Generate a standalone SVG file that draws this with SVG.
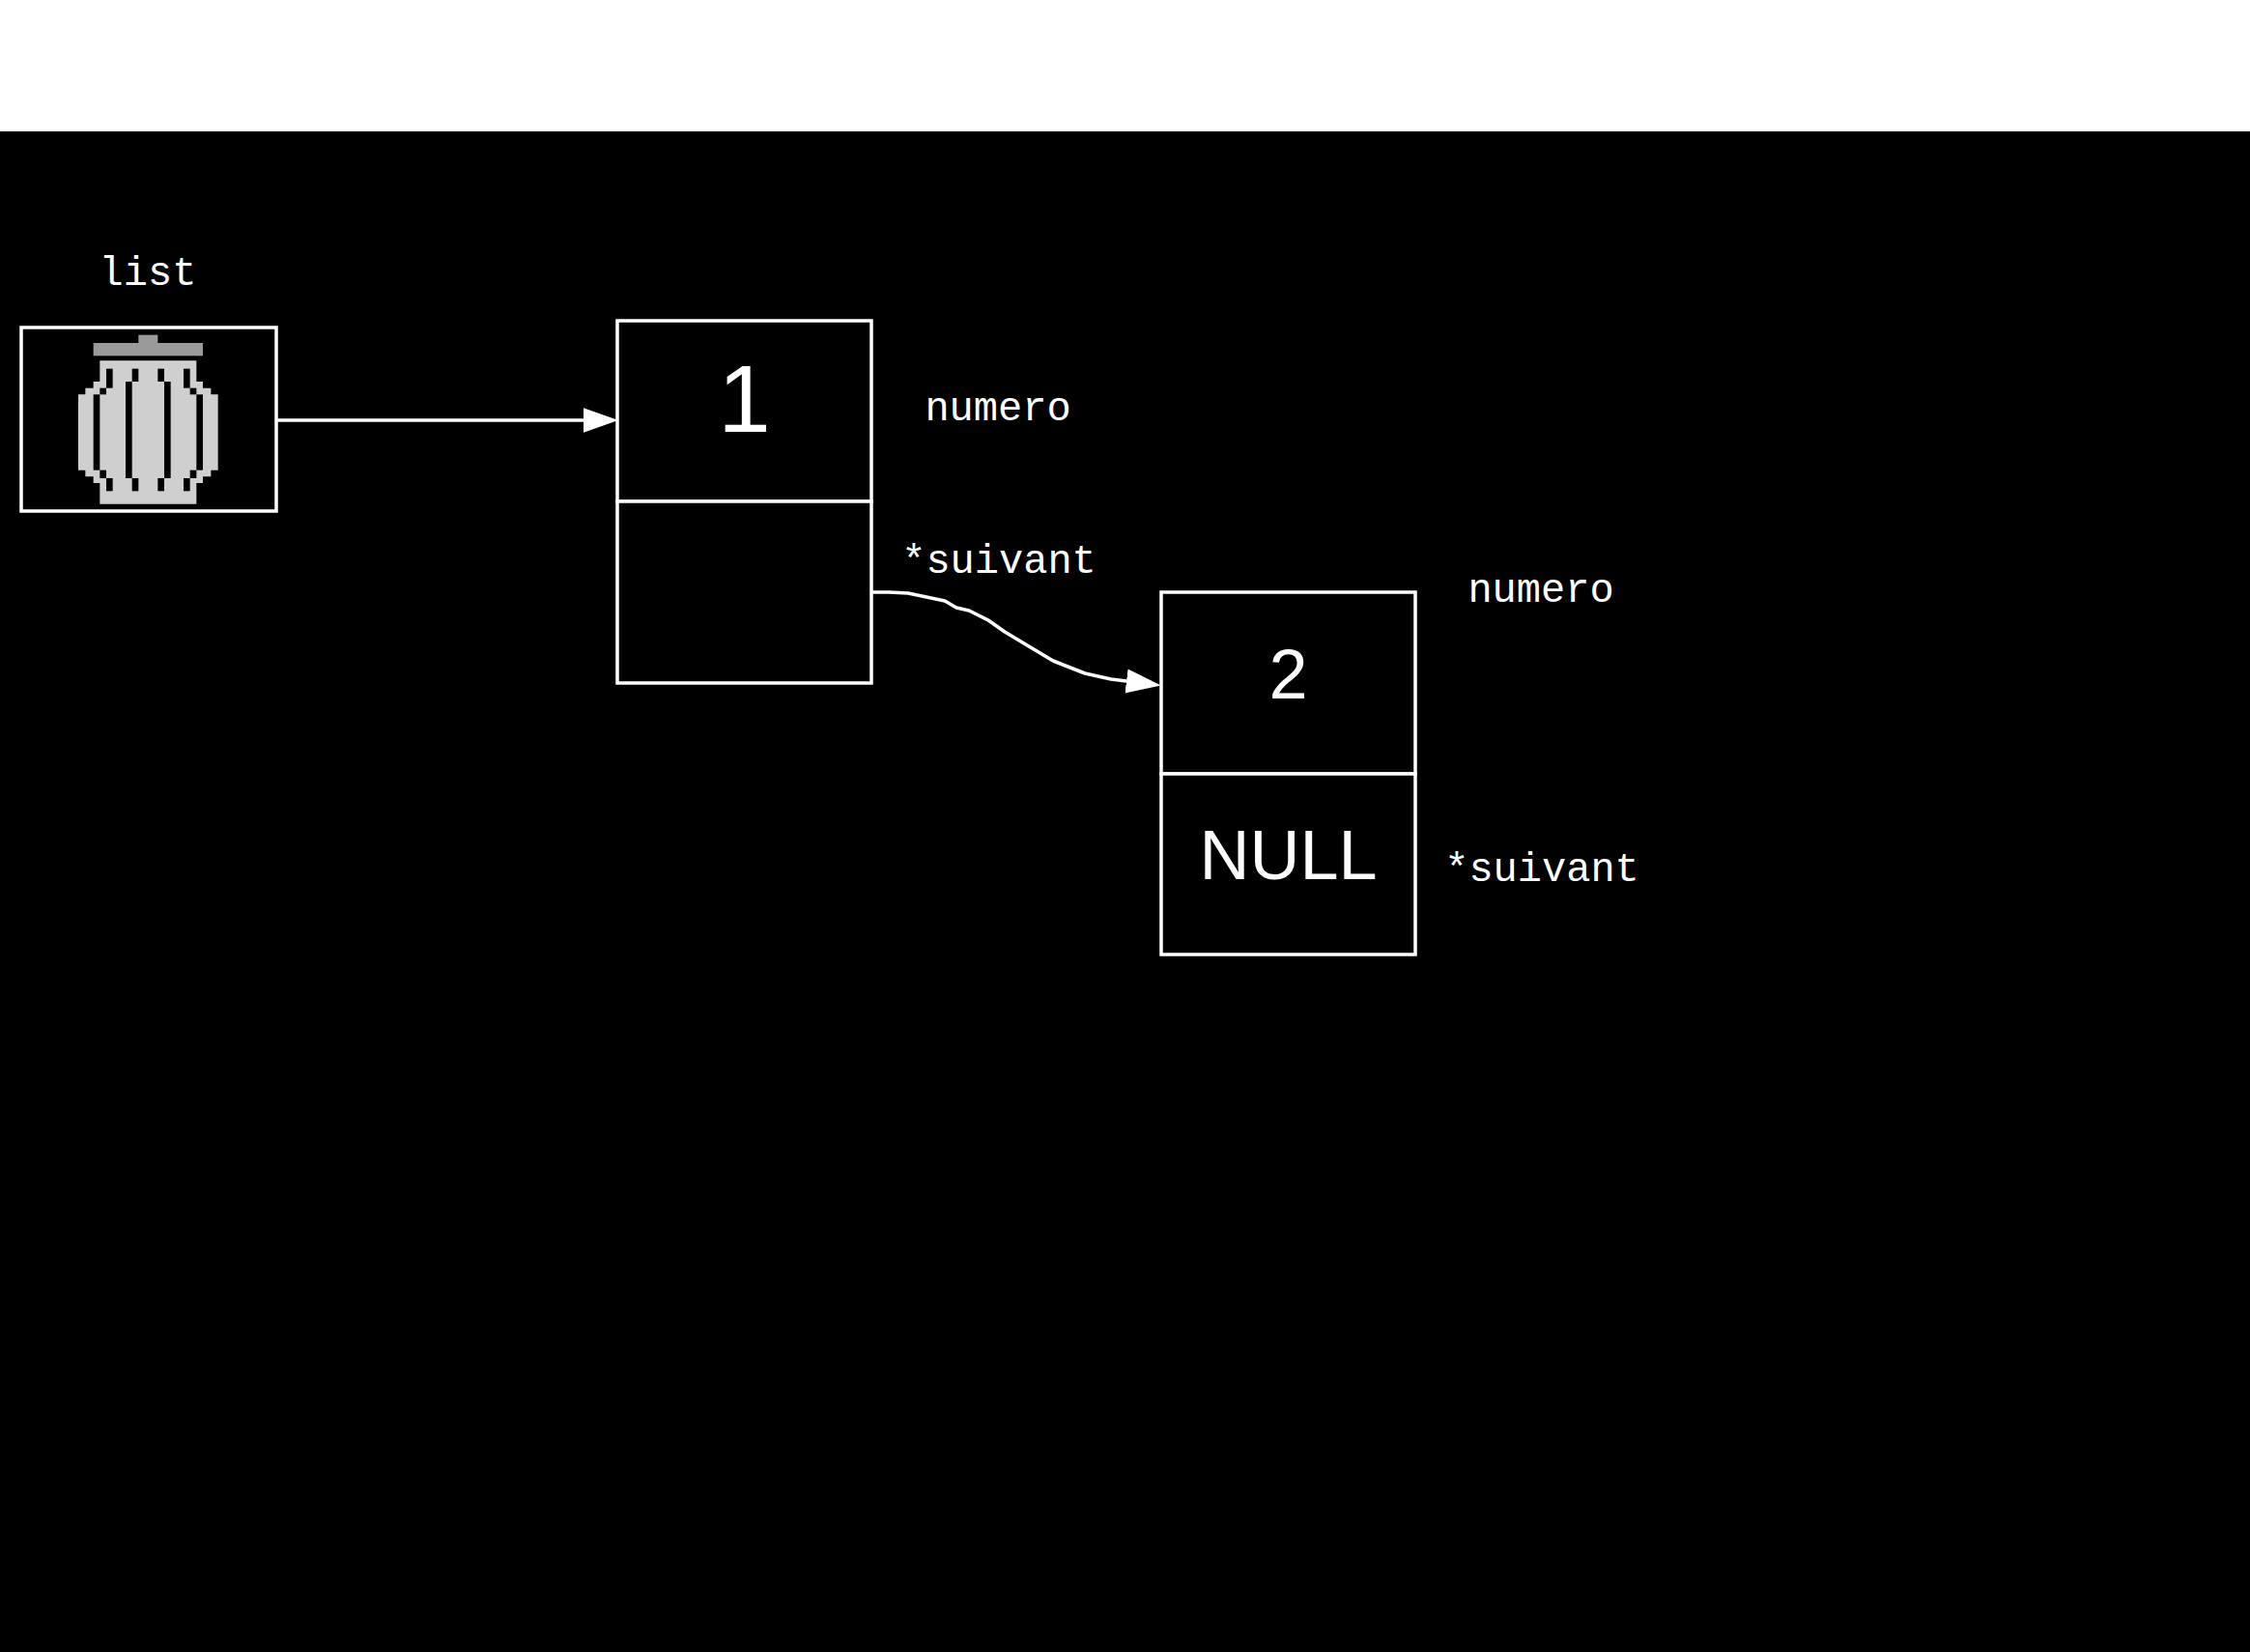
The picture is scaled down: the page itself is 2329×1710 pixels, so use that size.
<svg xmlns="http://www.w3.org/2000/svg" width="2329" height="1710" viewBox="0 0 2329 1710">
  <style>
    .box { fill: #000000; stroke: #ffffff; stroke-width: 3.5; }
    .lbl { font-family: "Liberation Mono", "DejaVu Sans Mono", monospace; font-size: 42px; fill: #ffffff; text-anchor: middle; }
    .val { font-family: "Liberation Sans", Arial, sans-serif; fill: #ffffff; text-anchor: middle; }
    .edge { fill: none; stroke: #ffffff; stroke-width: 3.5; stroke-linejoin: round; }
    .lid { fill: #9a9a9a; }
    .can { fill: #cfcfcf; }
    .stripe { fill: #000000; }
  </style>
  <defs>
    <marker id="arrow" markerUnits="userSpaceOnUse" markerWidth="36" markerHeight="26" viewBox="0 0 34 24" refX="0" refY="12" orient="auto">
      <path d="M0,0 L34,12 L0,24 Z" fill="#ffffff"/>
    </marker>
  </defs>

  <rect x="0" y="0" width="2329" height="1710" fill="#ffffff"/>
  <rect x="0" y="136" width="2329" height="1574" fill="#000000"/>

  <g id="list">
    <text class="lbl" x="153" y="295">list</text>
    <rect class="box" x="22" y="339" width="264" height="190"/>
    <g id="trash-icon" transform="translate(65,340) scale(0.3333333)">
      <rect class="lid" x="235" y="20" width="60" height="26"/>
      <rect class="lid" x="95" y="45" width="340" height="40"/>
      <path class="can" d="M115,100 H415 V165 H435 V185 H460 V205 H482 V440 H460 V460 H435 V480 H415 V545 H115 V480 H95 V460 H70 V440 H48 V205 H70 V185 H95 V165 H115 Z"/>
      <rect class="stripe" x="135" y="125" width="20" height="60"/>
      <rect class="stripe" x="115" y="185" width="20" height="20"/>
      <rect class="stripe" x="95" y="205" width="20" height="235"/>
      <rect class="stripe" x="115" y="440" width="20" height="25"/>
      <rect class="stripe" x="135" y="465" width="20" height="40"/>
      <rect class="stripe" x="215" y="125" width="20" height="40"/>
      <rect class="stripe" x="195" y="165" width="20" height="300"/>
      <rect class="stripe" x="215" y="465" width="20" height="40"/>
      <rect class="stripe" x="295" y="125" width="20" height="40"/>
      <rect class="stripe" x="315" y="165" width="20" height="300"/>
      <rect class="stripe" x="295" y="465" width="20" height="40"/>
      <rect class="stripe" x="375" y="125" width="20" height="60"/>
      <rect class="stripe" x="395" y="185" width="20" height="20"/>
      <rect class="stripe" x="415" y="205" width="20" height="235"/>
      <rect class="stripe" x="395" y="440" width="20" height="25"/>
      <rect class="stripe" x="375" y="465" width="20" height="40"/>
    </g>
  </g>

  <g id="node1">
    <rect class="box" x="639" y="332" width="263" height="187"/>
    <rect class="box" x="639" y="519" width="263" height="188"/>
    <text class="val" x="770.5" y="447" font-size="98">1</text>
    <text class="lbl" x="1033" y="435">numero</text>
    <text class="lbl" x="1034" y="593">*suivant</text>
  </g>

  <g id="node2">
    <rect class="box" x="1202" y="613" width="263" height="188"/>
    <rect class="box" x="1202" y="801" width="263" height="187"/>
    <text class="val" x="1333.5" y="723" font-size="72">2</text>
    <text class="val" x="1333.5" y="910" font-size="72">NULL</text>
    <text class="lbl" x="1595" y="623">numero</text>
    <text class="lbl" x="1596" y="912">*suivant</text>
  </g>

  <g id="connectors">
    <path class="edge" d="M287,435 L604,435" marker-end="url(#arrow)"/>
    <path class="edge" d="M903,613 L920,613 L940,614 L978,622 L990,629 L1003,632 L1023,642 L1040,654 L1090,684 L1123,697 L1150,703 L1166,705" marker-end="url(#arrow)"/>
  </g>
</svg>
